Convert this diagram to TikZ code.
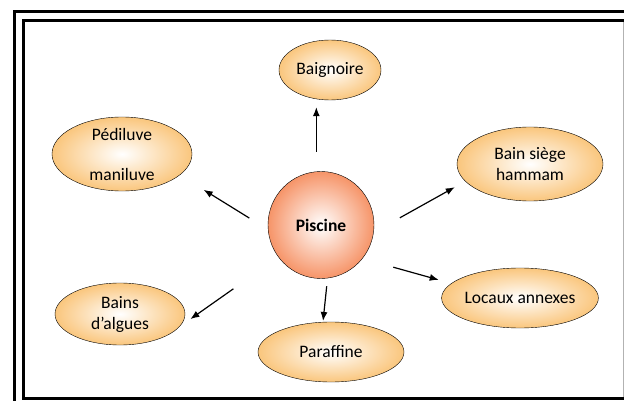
\documentclass[tikz,border=0pt]{standalone}
\usepackage{fontspec}
\setmainfont{Carlito}
\usetikzlibrary{shapes.geometric,arrows.meta}

\definecolor{orangeclair}{RGB}{250,198,125}
\definecolor{saumon}{RGB}{246,148,104}

\begin{document}
\begin{tikzpicture}[x=1pt,y=-1pt,
  soin/.style={ellipse,draw,thin,inner sep=0pt,align=center,
    inner color=white,outer color=orangeclair,
    font=\fontsize{17.5}{21}\selectfont},
  fleche/.style={-{Latex[length=9pt,width=7pt]},line width=1.2pt}]
\useasboundingbox (0,0) rectangle (624,401);
% cadre double
\draw[line width=3pt] (14.5,401) -- (14.5,11.5) -- (624,11.5);
\draw[line width=3pt] (624,20.5) -- (23.5,20.5) -- (23.5,398.5) -- (624,398.5);
\draw[gray!60] (623.3,22) -- (623.3,397);
% les soins
\node[soin,minimum width=106,minimum height=107,outer color=saumon,font=\fontsize{17.5}{21}\selectfont\bfseries] (pis) at (321,225) {Piscine};
\node[soin,minimum width=102,minimum height=60] (bai) at (330,70) {Baignoire};
\node[soin,minimum width=140,minimum height=74] (ped) at (122,154) {Pédiluve\\[19pt]maniluve};
\node[soin,minimum width=146,minimum height=74] (bsh) at (530,164) {Bain siège\\hammam};
\node[soin,minimum width=144,minimum height=60] (loc) at (520,298) {Locaux annexes};
\node[soin,minimum width=130,minimum height=62] (alg) at (120,314) {Bains\\d'algues};
\node[soin,minimum width=146,minimum height=60] (par) at (331,352) {Paraffine};
% fleches
\draw[fleche,shorten <=20pt,shorten >=7pt] (pis.95) -- (pis.95 |- bai.south);
\draw[fleche,shorten <=22pt,shorten >=28pt] (pis.185) -- (ped.340);
\draw[fleche,shorten <=30pt,shorten >=12pt] (pis.352) -- (bsh.195);
\draw[fleche,shorten <=32pt,shorten >=13pt] (pis.321) -- (loc.168);
\draw[fleche,shorten <=8pt,shorten >=1pt] (pis.277) -- (par.105);
\draw[fleche,shorten <=55pt,shorten >=29pt] (pis.217) -- (alg.335);
\end{tikzpicture}
\end{document}
